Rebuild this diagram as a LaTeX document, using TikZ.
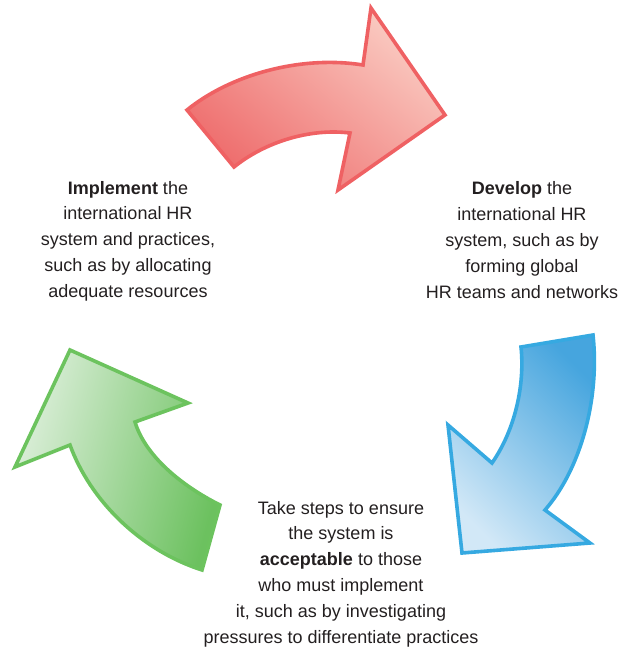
\documentclass[tikz,border=0pt]{standalone}
\usepackage{fontspec}
\setmainfont{Liberation Sans}
\usepackage{xcolor}
\usetikzlibrary{calc}

\definecolor{redline}{HTML}{EF6163}
\definecolor{redlight}{HTML}{FACBC2}
\definecolor{reddark}{HTML}{EE6C6C}
\definecolor{blueline}{HTML}{36A9E1}
\definecolor{bluelight}{HTML}{D2E8F7}
\definecolor{bluedark}{HTML}{46A5DE}
\definecolor{greenline}{HTML}{6CC35E}
\definecolor{greenlight}{HTML}{DDEFDB}
\definecolor{greendark}{HTML}{6CC15F}
\definecolor{txt}{HTML}{231F20}

\begin{document}
\begin{tikzpicture}[x=1pt,y=-1pt,
  arrowshape/.style={line width=3.6pt,line join=miter},
  steptext/.style={align=center,inner sep=0pt,text=txt,
    font=\fontsize{18}{25.8}\selectfont}]
  \useasboundingbox (0,0) rectangle (618,648);

  % develop (red)
  \shadedraw[arrowshape,draw=redline,top color=redlight,bottom color=reddark,shading angle=-40]
    (187,110) -- (234,167) .. controls (265,142) and (310,128) .. (350,133)
    -- (338,190) -- (445,115) -- (371,8) -- (363,65)
    .. controls (300,55) and (230,75) .. cycle;

  % acceptable (blue)
  \shadedraw[arrowshape,draw=blueline,top color=bluedark,bottom color=bluelight,shading angle=-45]
    (593,335) -- (521,347) .. controls (525,385) and (515,430) .. (492,463)
    -- (448,425) -- (462,553) -- (590,543) -- (545,510)
    .. controls (580,470) and (600,400) .. cycle;

  % implement (green)
  \shadedraw[arrowshape,draw=greenline,top color=greenlight,bottom color=greendark,shading angle=75]
    (70,350) -- (188,403) -- (135,422) .. controls (145,455) and (180,485) .. (220,505)
    -- (202,570) .. controls (140,550) and (90,500) .. (70,445)
    -- (15,467) -- cycle;

  \node[steptext] (implement) at (128,241)
    {\textbf{Implement} the\\international HR\\system and practices,\\such as by allocating\\adequate resources};
  \node[steptext] (develop) at (522,240)
    {\textbf{Develop} the\\international HR\\system, such as by\\forming global\\HR teams and networks};
  \node[steptext] (accept) at (341,574)
    {Take steps to ensure\\the system is\\\textbf{acceptable} to those\\who must implement\\it, such as by investigating\\pressures to differentiate practices};
\end{tikzpicture}
\end{document}
